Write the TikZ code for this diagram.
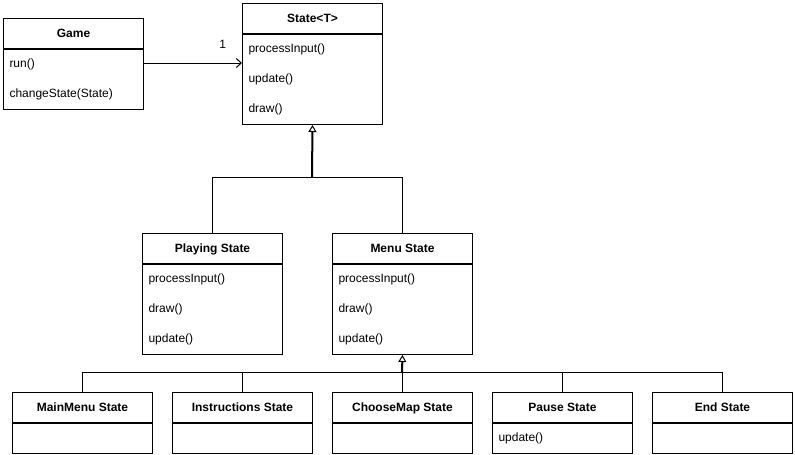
\documentclass[tikz,border=0pt]{standalone}
\usepackage{fontspec}
\setmainfont{Liberation Sans}
\usetikzlibrary{arrows.meta}

\begin{document}
\begin{tikzpicture}[
  x=1pt,y=-1pt,
  font=\fontsize{12}{14}\selectfont,
  classhead/.style={draw,line width=1pt,minimum width=140pt,minimum height=30pt,
    inner sep=0pt,text height=10pt,text depth=1.4pt,anchor=north west,
    font=\fontsize{12}{14}\selectfont\bfseries},
  classbody/.style={draw,line width=1pt,anchor=north,text width=128pt,align=left,
    inner xsep=6pt,inner ysep=0pt,font=\fontsize{12}{30}\selectfont},
  link/.style={draw,line width=1pt},
  inherit/.style={-{Triangle[open,length=7pt,width=8pt,line width=1pt]},line width=2pt},
  assoc/.style={-{Straight Barb[length=5pt,width=9pt]},line width=1pt}
]
  \useasboundingbox (0,0) rectangle (795,455);

  % top classes
  \node[classhead] (game) at (3,18) {Game};
  \node[classbody,minimum height=60pt] (game-body) at (game.south)
    {run()\\changeState(State)};
  \node[classhead] (state) at (242,3) {State<T>};
  \node[classbody,minimum height=90pt] (state-body) at (state.south)
    {processInput()\\update()\\draw()};

  % middle row
  \node[classhead] (playing) at (142,233) {Playing State};
  \node[classbody,minimum height=90pt] (playing-body) at (playing.south)
    {processInput()\\draw()\\update()};
  \node[classhead] (menu) at (332,233) {Menu State};
  \node[classbody,minimum height=90pt] (menu-body) at (menu.south)
    {processInput()\\draw()\\update()};

  % bottom row
  \foreach \name/\x/\title/\body in {mainmenu/12/MainMenu State/{},
      instructions/172/Instructions State/{},choosemap/332/ChooseMap State/{},
      pause/492/Pause State/update(),endstate/652/End State/{}}{
    \node[classhead] (\name) at (\x,392) {\title};
    \node[classbody,minimum height=30pt] (\name-body) at (\name.south) {\body};
  }

  % association
  \coordinate (assoc-start) at ([yshift=-14pt]game-body.north east);
  \draw[assoc] (assoc-start) -- (assoc-start -| state-body.west)
    node[at end,anchor=south east,xshift=-12pt,yshift=11pt] {1};

  % generalization
  \coordinate (state-fork) at (312,177);
  \draw[inherit] (state-fork) -- (state-body.south);
  \foreach \n in {playing,menu}
    \draw[link] (\n.north) |- (state-fork);

  \coordinate (menu-fork) at (402,372);
  \draw[inherit] (menu-fork) -- (menu-body.south);
  \foreach \n in {mainmenu,instructions,choosemap,pause,endstate}
    \draw[link] (\n.north) |- (menu-fork);
\end{tikzpicture}
\end{document}
